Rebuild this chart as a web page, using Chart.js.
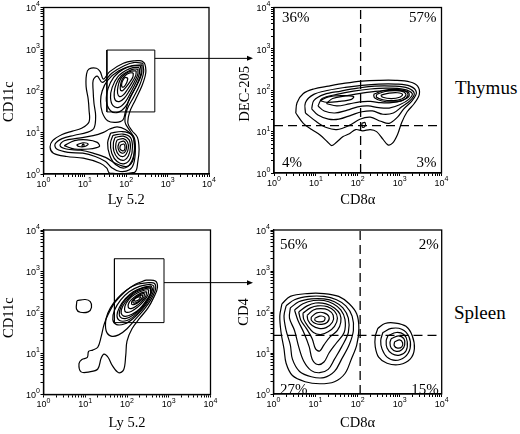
<!DOCTYPE html>
<html>
<head>
<meta charset="utf-8">
<script src="https://cdn.jsdelivr.net/npm/chart.js@4.4.1/dist/chart.umd.min.js"></script>
<style>
  html, body { margin: 0; padding: 0; background: #fff; }
  body { width: 520px; height: 434px; position: relative; overflow: hidden; }
  canvas { position: absolute; }
  .tissue { position: absolute; font: 19px "Liberation Serif", serif; line-height: 19px; color: #000; }
</style>
</head>
<body>
<canvas id="thymusGate" width="260" height="217" style="left:0;top:0"></canvas>
<canvas id="thymusSubsets" width="220" height="217" style="left:232px;top:0"></canvas>
<canvas id="spleenGate" width="260" height="217" style="left:0;top:217px"></canvas>
<canvas id="spleenSubsets" width="220" height="217" style="left:232px;top:217px"></canvas>
<div class="tissue" style="left:455px;top:78px">Thymus</div>
<div class="tissue" style="left:454px;top:303px">Spleen</div>
<script>
// decade ticks on every axis, labelled 10 with a raised exponent
const decadeValues = [1, 10, 100, 1000, 10000];
const decadeExponents = ['0', '1', '2', '3', '4'];

// contours, as [log10 x, log10 y] pairs

// thymus: CD11c vs Ly 5.2
const thymusGateContours = [
  [[2.37,2.72],[2.45,2.64],[2.47,2.42],[2.38,2.12],[2.22,1.78],[2.08,1.48],[2.04,1.22],[2.14,1.04],[2.27,0.88],[2.31,0.6],[2.28,0.3],[2.2,0.04],[1.6,0.02],[1.53,0.14],[1.37,0.26],[0.96,0.38],[0.56,0.42],[0.24,0.5],[0.16,0.64],[0.22,0.8],[0.45,0.95],[0.7,1.03],[0.92,1.1],[1.1,1.25],[1.1,1.55],[1.08,1.8],[1.03,2.1],[1.04,2.4],[1.1,2.52],[1.28,2.54],[1.37,2.46],[1.45,2.28],[1.6,2.46],[1.93,2.66],[2.2,2.72]],
  [[2.4,2.66],[2.42,2.45],[2.33,2.15],[2.18,1.85],[2.02,1.55],[1.97,1.25],[2.08,1.05],[2.2,0.85],[2.22,0.55],[2.18,0.25],[2.08,0.1],[1.85,0.06],[1.65,0.15],[1.5,0.3],[1.25,0.42],[0.95,0.5],[0.6,0.52],[0.32,0.6],[0.28,0.72],[0.45,0.85],[0.75,0.93],[1.05,1.0],[1.22,1.1],[1.26,1.4],[1.22,1.7],[1.2,2.0],[1.2,2.25],[1.3,2.35],[1.42,2.2],[1.65,2.42],[1.95,2.6],[2.2,2.68]],
  [[2.18,0.9],[2.2,0.6],[2.15,0.3],[2.0,0.18],[1.75,0.25],[1.5,0.4],[1.2,0.5],[0.9,0.57],[0.55,0.6],[0.4,0.68],[0.5,0.8],[0.85,0.86],[1.2,0.92],[1.45,1.0],[1.6,1.08],[1.78,1.13],[1.98,1.07]],
  [[2.38,2.62],[2.37,2.4],[2.25,2.12],[2.08,1.82],[1.98,1.5],[1.92,1.3],[1.75,1.24],[1.55,1.28],[1.42,1.48],[1.38,1.75],[1.42,2.0],[1.55,2.25],[1.82,2.48],[2.12,2.6]],
  [[2.34,2.6],[2.36,2.43],[2.27,2.18],[2.13,1.9],[1.98,1.62],[1.8,1.48],[1.62,1.52],[1.52,1.75],[1.56,2.05],[1.7,2.33],[1.93,2.52],[2.18,2.6]],
  [[2.31,2.56],[2.32,2.42],[2.23,2.19],[2.1,1.94],[1.97,1.72],[1.82,1.6],[1.68,1.64],[1.62,1.84],[1.66,2.08],[1.79,2.33],[2.0,2.49],[2.18,2.56]],
  [[2.28,2.52],[2.28,2.4],[2.19,2.2],[2.07,1.99],[1.95,1.82],[1.83,1.74],[1.73,1.78],[1.71,1.96],[1.76,2.17],[1.88,2.36],[2.05,2.47],[2.18,2.52]],
  [[2.24,2.48],[2.23,2.37],[2.14,2.2],[2.03,2.03],[1.93,1.9],[1.84,1.86],[1.79,1.94],[1.8,2.1],[1.86,2.28],[1.98,2.41],[2.12,2.47]],
  [[2.17,2.43],[2.16,2.33],[2.08,2.2],[1.99,2.08],[1.91,2.0],[1.86,2.02],[1.86,2.13],[1.9,2.27],[1.99,2.38],[2.09,2.43]],
  [[2.04,2.3],[2.01,2.19],[1.95,2.1],[1.9,2.09],[1.89,2.17],[1.93,2.27],[1.98,2.32]],
  [[1.62,0.98],[1.9,1.02],[2.12,0.95],[2.2,0.7],[2.15,0.35],[1.98,0.15],[1.75,0.22],[1.6,0.45],[1.55,0.75]],
  [[1.68,0.93],[1.92,0.96],[2.1,0.88],[2.15,0.65],[2.1,0.38],[1.96,0.25],[1.78,0.3],[1.65,0.5],[1.62,0.75]],
  [[1.73,0.88],[1.93,0.91],[2.07,0.82],[2.1,0.63],[2.05,0.43],[1.95,0.33],[1.8,0.38],[1.7,0.55],[1.69,0.75]],
  [[1.78,0.82],[1.93,0.85],[2.03,0.77],[2.05,0.62],[2.0,0.48],[1.93,0.42],[1.82,0.46],[1.75,0.6],[1.75,0.73]],
  [[1.83,0.76],[1.94,0.79],[2.0,0.7],[2.0,0.6],[1.96,0.52],[1.9,0.5],[1.83,0.55],[1.8,0.65]],
  [[1.87,0.7],[1.94,0.72],[1.97,0.65],[1.95,0.57],[1.9,0.56],[1.85,0.6],[1.85,0.66]],
  [[0.5,0.68],[0.75,0.8],[1.05,0.82],[1.3,0.76],[1.35,0.66],[1.1,0.6],[0.75,0.6]],
  [[0.8,0.7],[0.95,0.75],[1.08,0.72],[1.0,0.66],[0.85,0.66]],
  [[0.93,0.7],[0.97,0.72],[0.98,0.68],[0.94,0.67]]
];
const thymusGateX = [34, 490];
const thymusGateY = [31, 950];
const thymusArrowY = 600;

// thymus gated cells: DEC-205 vs CD8α
const thymusSubsetContours = [
  [[0.52,1.45],[0.55,1.7],[0.7,1.92],[0.95,2.03],[1.3,2.1],[1.7,2.17],[2.1,2.22],[2.5,2.24],[2.9,2.24],[3.25,2.2],[3.43,2.1],[3.47,1.9],[3.35,1.68],[3.18,1.48],[3.05,1.22],[2.95,0.93],[2.83,0.72],[2.72,0.68],[2.6,0.82],[2.45,1.0],[2.3,1.05],[2.12,1.02],[1.95,1.05],[1.8,0.95],[1.65,0.88],[1.5,0.75],[1.38,0.66],[1.28,0.75],[1.1,0.92],[0.9,1.05],[0.7,1.2]],
  [[0.75,1.45],[0.75,1.7],[0.95,1.9],[1.3,2.0],[1.7,2.07],[2.1,2.12],[2.5,2.15],[2.9,2.15],[3.25,2.1],[3.4,1.95],[3.3,1.75],[3.1,1.55],[2.95,1.35],[2.75,1.2],[2.55,1.25],[2.3,1.35],[2.05,1.3],[1.8,1.15],[1.5,1.05],[1.25,1.1],[1.0,1.25]],
  [[0.9,1.55],[0.95,1.75],[1.2,1.9],[1.6,1.98],[2.0,2.05],[2.4,2.1],[2.85,2.1],[3.2,2.05],[3.35,1.92],[3.25,1.75],[3.05,1.6],[2.85,1.45],[2.6,1.42],[2.35,1.5],[2.1,1.48],[1.85,1.4],[1.55,1.3],[1.3,1.3],[1.05,1.4]],
  [[1.05,1.62],[1.15,1.8],[1.5,1.9],[1.9,1.98],[2.3,2.03],[2.7,2.05],[3.1,2.02],[3.3,1.92],[3.22,1.78],[3.0,1.65],[2.75,1.57],[2.5,1.58],[2.25,1.62],[2.0,1.6],[1.75,1.52],[1.45,1.45],[1.2,1.5]],
  [[1.25,1.68],[1.4,1.8],[1.75,1.87],[2.1,1.93],[2.5,1.98],[2.9,2.0],[3.2,1.96],[3.22,1.85],[3.05,1.75],[2.8,1.7],[2.55,1.7],[2.3,1.73],[2.05,1.72],[1.8,1.67],[1.5,1.62]],
  [[2.38,1.9],[2.6,1.99],[2.9,2.02],[3.14,1.98],[3.2,1.88],[3.08,1.76],[2.85,1.72],[2.58,1.74],[2.4,1.82]],
  [[2.45,1.9],[2.65,1.97],[2.9,1.99],[3.1,1.96],[3.15,1.88],[3.05,1.79],[2.85,1.75],[2.6,1.77],[2.45,1.83]],
  [[2.55,1.88],[2.75,1.93],[2.95,1.94],[3.07,1.9],[3.0,1.83],[2.8,1.8],[2.6,1.83]],
  [[1.1,1.75],[1.3,1.84],[1.6,1.87],[1.9,1.85],[1.85,1.78],[1.55,1.73],[1.25,1.71]],
  [[2.1,1.2],[2.17,1.22],[2.18,1.14],[2.12,1.1],[2.1,1.15]]
];
const thymusCD8Cut = 117;
const thymusDECCut = 14;
const thymusQuadrants = ['36%', '57%', '4%', '3%'];

// spleen: CD11c vs Ly 5.2
const spleenGateContours = [
  [[2.45,2.78],[2.68,2.76],[2.73,2.6],[2.65,2.38],[2.5,2.1],[2.3,1.85],[2.12,1.6],[2.0,1.3],[1.97,0.95],[1.92,0.6],[1.8,0.53],[1.65,0.7],[1.55,0.9],[1.45,0.98],[1.38,0.88],[1.3,0.62],[1.1,0.55],[0.9,0.55],[0.85,0.75],[0.92,0.85],[1.05,0.9],[1.08,1.05],[1.18,1.08],[1.3,1.15],[1.38,1.4],[1.45,1.7],[1.55,1.95],[1.72,2.25],[1.95,2.5],[2.2,2.68]],
  [[2.5,2.72],[2.66,2.7],[2.68,2.55],[2.58,2.32],[2.42,2.08],[2.22,1.85],[2.0,1.6],[1.8,1.45],[1.62,1.42],[1.5,1.55],[1.5,1.85],[1.6,2.1],[1.78,2.35],[2.0,2.55],[2.25,2.68]],
  [[2.55,2.68],[2.64,2.64],[2.63,2.5],[2.52,2.28],[2.35,2.05],[2.15,1.85],[1.95,1.72],[1.75,1.7],[1.66,1.82],[1.7,2.05],[1.85,2.3],[2.05,2.5],[2.3,2.63]],
  [[2.58,2.64],[2.61,2.55],[2.53,2.35],[2.38,2.12],[2.2,1.93],[2.0,1.8],[1.82,1.8],[1.76,1.92],[1.82,2.12],[1.96,2.33],[2.15,2.5],[2.38,2.6]],
  [[2.57,2.61],[2.58,2.5],[2.49,2.31],[2.34,2.1],[2.16,1.94],[1.98,1.85],[1.84,1.88],[1.82,2.02],[1.9,2.22],[2.06,2.4],[2.26,2.54],[2.42,2.6]],
  [[2.56,2.59],[2.56,2.45],[2.45,2.27],[2.3,2.08],[2.12,1.95],[1.95,1.9],[1.86,1.98],[1.9,2.15],[2.03,2.33],[2.2,2.48],[2.42,2.57]],
  [[2.52,2.55],[2.5,2.42],[2.4,2.27],[2.25,2.12],[2.1,2.02],[1.98,2.0],[1.94,2.08],[1.98,2.22],[2.1,2.37],[2.27,2.48],[2.43,2.54]],
  [[2.47,2.5],[2.45,2.39],[2.35,2.26],[2.22,2.15],[2.1,2.09],[2.03,2.12],[2.05,2.24],[2.15,2.35],[2.32,2.46]],
  [[2.42,2.46],[2.4,2.36],[2.3,2.26],[2.18,2.19],[2.11,2.2],[2.13,2.29],[2.23,2.38],[2.34,2.44]],
  [[2.38,2.42],[2.35,2.33],[2.26,2.25],[2.17,2.22],[2.14,2.26],[2.2,2.34],[2.3,2.4]],
  [[2.33,2.38],[2.29,2.31],[2.21,2.27],[2.17,2.29],[2.2,2.34],[2.27,2.37]],
  [[0.8,2.28],[1.0,2.31],[1.12,2.26],[1.15,2.12],[1.07,2.01],[0.88,2.0],[0.79,2.08]]
];
const spleenGateX = [50, 770];
const spleenGateY = [56, 2000];
const spleenArrowY = 525;

// spleen gated cells: CD4 vs CD8α
const spleenSubsetContours = [
  [[0.2,2.2],[0.4,2.38],[0.8,2.45],[1.2,2.45],[1.55,2.38],[1.8,2.2],[1.98,1.95],[2.03,1.6],[1.98,1.2],[1.85,0.85],[1.7,0.5],[1.45,0.3],[1.1,0.25],[0.75,0.3],[0.45,0.45],[0.3,0.75],[0.25,1.1],[0.18,1.5],[0.15,1.9]],
  [[0.3,2.15],[0.5,2.3],[0.85,2.38],[1.2,2.38],[1.5,2.3],[1.72,2.15],[1.87,1.9],[1.9,1.55],[1.8,1.2],[1.62,0.85],[1.45,0.55],[1.2,0.4],[0.9,0.42],[0.62,0.55],[0.45,0.85],[0.4,1.2],[0.3,1.55],[0.25,1.9]],
  [[0.4,2.1],[0.6,2.25],[0.9,2.32],[1.2,2.32],[1.45,2.25],[1.65,2.1],[1.78,1.85],[1.78,1.5],[1.62,1.15],[1.45,0.85],[1.3,0.6],[1.1,0.52],[0.9,0.57],[0.72,0.8],[0.6,1.15],[0.5,1.55],[0.38,1.85]],
  [[0.5,2.05],[0.7,2.2],[0.95,2.28],[1.2,2.28],[1.42,2.2],[1.6,2.05],[1.7,1.82],[1.68,1.5],[1.5,1.25],[1.32,1.0],[1.2,0.78],[1.05,0.72],[0.92,0.85],[0.85,1.15],[0.72,1.5],[0.58,1.8]],
  [[0.6,2.0],[0.8,2.15],[1.0,2.22],[1.25,2.2],[1.45,2.1],[1.58,1.95],[1.6,1.75],[1.52,1.55],[1.35,1.4],[1.2,1.2],[1.1,1.05],[1.0,1.1],[0.92,1.35],[0.78,1.6],[0.65,1.8]],
  [[0.7,1.97],[0.88,2.1],[1.05,2.15],[1.28,2.13],[1.45,2.02],[1.52,1.85],[1.45,1.65],[1.3,1.52],[1.12,1.45],[0.95,1.5],[0.82,1.65],[0.72,1.82]],
  [[0.8,1.92],[0.95,2.05],[1.12,2.08],[1.3,2.05],[1.42,1.92],[1.4,1.75],[1.25,1.62],[1.08,1.6],[0.92,1.67],[0.82,1.8]],
  [[0.9,1.88],[1.03,1.98],[1.2,1.98],[1.32,1.88],[1.28,1.75],[1.15,1.7],[1.0,1.72],[0.9,1.8]],
  [[0.98,1.84],[1.1,1.9],[1.22,1.87],[1.2,1.78],[1.08,1.76],[0.99,1.79]],
  [[2.48,1.6],[2.65,1.72],[2.9,1.73],[3.15,1.65],[3.3,1.42],[3.35,1.1],[3.25,0.85],[3.0,0.72],[2.7,0.75],[2.5,0.9],[2.42,1.15],[2.42,1.4]],
  [[2.6,1.5],[2.8,1.6],[3.05,1.58],[3.22,1.4],[3.25,1.12],[3.12,0.9],[2.9,0.82],[2.7,0.9],[2.58,1.1],[2.55,1.3]],
  [[2.72,1.42],[2.92,1.5],[3.1,1.45],[3.18,1.28],[3.15,1.05],[3.0,0.95],[2.82,0.98],[2.7,1.12],[2.68,1.3]],
  [[2.8,1.35],[2.97,1.42],[3.1,1.35],[3.12,1.2],[3.05,1.08],[2.92,1.04],[2.8,1.12],[2.77,1.25]],
  [[2.88,1.27],[3.0,1.32],[3.07,1.25],[3.05,1.15],[2.95,1.12],[2.87,1.18]]
];
const spleenCD8Cut = 115;
const spleenCD4Cut = 27;
const spleenQuadrants = ['56%', '2%', '27%', '15%'];

// 1..9 x each decade for the tick marks
const logTicks = [];
decadeValues.slice(0, 4).forEach(d => { for (let m = 1; m < 10; m++) logTicks.push(m * d); });
logTicks.push(10000);

const black = '#000';
const serif = 'Liberation Serif';
const sans = 'Liberation Sans';

function logAxis(title, size, titlePad) {
  return {
    type: 'logarithmic',
    min: 1,
    max: 10000,
    afterBuildTicks: s => { s.ticks = logTicks.map(v => ({ value: v })); },
    afterFit: s => { if (s.isHorizontal()) s.height = size; else s.width = size; },
    ticks: { display: false, autoSkip: false },
    grid: { drawOnChartArea: false, drawTicks: true, tickLength: 3, tickColor: black, tickWidth: 1 },
    border: { display: true, color: black, width: 1.3 },
    title: { display: true, text: title, color: black, font: { family: serif, size: 14.5 }, padding: titlePad }
  };
}

function contourSets(lines) {
  return lines.map(pts => ({
    data: pts.concat([pts[0]]).map(([a, b]) => ({ x: 10 ** a, y: 10 ** b })),
    showLine: true, borderColor: black, borderWidth: 1.2, pointRadius: 0, tension: 0.35
  }));
}

function gateSet(gx, gy) {
  return {
    data: [{ x: gx[0], y: gy[0] }, { x: gx[1], y: gy[0] }, { x: gx[1], y: gy[1] }, { x: gx[0], y: gy[1] }, { x: gx[0], y: gy[0] }],
    showLine: true, borderColor: black, borderWidth: 1, pointRadius: 0, tension: 0
  };
}

function cutSets(xCut, yCut) {
  const dash = { showLine: true, borderColor: black, borderWidth: 1.3, borderDash: [9, 5], pointRadius: 0, tension: 0 };
  return [
    { ...dash, data: [{ x: xCut, y: 1 }, { x: xCut, y: 10000 }] },
    { ...dash, data: [{ x: 1, y: yCut }, { x: 10000, y: yCut }] }
  ];
}

// decade labels "10" + superscript exponent, placed through the scales
function drawDecadeLabels(ctx, x, y) {
  const base = '9px "' + sans + '"', sup = '7px "' + sans + '"';
  ctx.textBaseline = 'middle';
  decadeValues.forEach((v, i) => {
    const e = decadeExponents[i];
    ctx.font = sup;
    const ew = ctx.measureText(e).width;
    ctx.font = base;
    const bw = ctx.measureText('10').width;
    // x axis: centred under the tick
    const px = x.getPixelForValue(v), by = x.top + 10.5;
    const left = px - (bw + ew) / 2;
    ctx.textAlign = 'left';
    ctx.fillText('10', left, by);
    ctx.font = sup;
    ctx.fillText(e, left + bw, by - 4);
    // y axis: right of the label next to the ticks
    const py = y.getPixelForValue(v), right = y.right - 3.5;
    ctx.textAlign = 'right';
    ctx.fillText(e, right, py - 3);
    ctx.font = base;
    ctx.fillText('10', right - ew, py + 1.2);
  });
}

// frame box, gate arrow, quadrant percentages and decade labels
const panelDecor = {
  id: 'panelDecor',
  afterDraw(chart, args, opts) {
    const { ctx, chartArea: a, scales: { x, y } } = chart;
    ctx.save();
    ctx.strokeStyle = black;
    ctx.fillStyle = black;
    ctx.lineWidth = 1.3;
    ctx.strokeRect(a.left, a.top, a.right - a.left, a.bottom - a.top);
    drawDecadeLabels(ctx, x, y);
    if (opts.arrow) {
      const x0 = x.getPixelForValue(opts.arrow.from);
      const y0 = y.getPixelForValue(opts.arrow.at);
      const tip = opts.arrow.tip;
      ctx.lineWidth = 1;
      ctx.beginPath();
      ctx.moveTo(x0, y0);
      ctx.lineTo(tip - 5, y0);
      ctx.stroke();
      ctx.beginPath();
      ctx.moveTo(tip, y0);
      ctx.lineTo(tip - 6, y0 - 2.5);
      ctx.lineTo(tip - 6, y0 + 2.5);
      ctx.closePath();
      ctx.fill();
    }
    if (opts.quadrants) {
      const q = opts.quadrants, p = opts.inset;
      ctx.font = '15px "' + serif + '"';
      ctx.textBaseline = 'alphabetic';
      ctx.textAlign = 'left';
      ctx.fillText(q[0], a.left + p.left, a.top + p.top);
      ctx.fillText(q[2], a.left + p.left, a.bottom - p.bottom);
      ctx.textAlign = 'right';
      ctx.fillText(q[1], a.right - p.right, a.top + p.top);
      ctx.fillText(q[3], a.right - p.right, a.bottom - p.bottom);
    }
    ctx.restore();
  }
};

function panel(id, datasets, cfg) {
  return new Chart(document.getElementById(id), {
    type: 'scatter',
    data: { datasets: datasets },
    options: {
      responsive: false,
      animation: false,
      events: [],
      layout: { padding: cfg.padding },
      scales: {
        x: logAxis(cfg.xTitle, cfg.xSize, { top: 0, bottom: cfg.xTitlePad }),
        y: logAxis(cfg.yTitle, cfg.ySize, { top: cfg.yTitlePad, bottom: 0 })
      },
      plugins: {
        legend: { display: false },
        tooltip: { enabled: false },
        panelDecor: cfg.decor
      }
    },
    plugins: [panelDecor]
  });
}

panel('thymusGate', contourSets(thymusGateContours).concat([gateSet(thymusGateX, thymusGateY)]), {
  padding: { top: 7.5, right: 51, bottom: 0, left: 0 },
  xTitle: 'Ly 5.2', xSize: 43, xTitlePad: 8,
  yTitle: 'CD11c      ', ySize: 43.5, yTitlePad: 0,
  decor: { arrow: { from: thymusGateX[1], at: thymusArrowY, tip: 253 } }
});

panel('thymusSubsets', contourSets(thymusSubsetContours).concat(cutSets(thymusCD8Cut, thymusDECCut)), {
  padding: { top: 7.5, right: 10.5, bottom: 0, left: 0 },
  xTitle: 'CD8α', xSize: 44, xTitlePad: 8,
  yTitle: 'DEC-205  ', ySize: 42, yTitlePad: 4,
  decor: { quadrants: thymusQuadrants, inset: { left: 8, right: 5, top: 14.5, bottom: 6 } }
});

panel('spleenGate', contourSets(spleenGateContours).concat([gateSet(spleenGateX, spleenGateY)]), {
  padding: { top: 13, right: 49.5, bottom: 0, left: 0 },
  xTitle: 'Ly 5.2', xSize: 39.5, xTitlePad: 2.5,
  yTitle: 'CD11c   ', ySize: 43.5, yTitlePad: 0,
  decor: { arrow: { from: spleenGateX[1], at: spleenArrowY, tip: 253 } }
});

panel('spleenSubsets', contourSets(spleenSubsetContours).concat(cutSets(spleenCD8Cut, spleenCD4Cut)), {
  padding: { top: 13, right: 10.3, bottom: 0, left: 0 },
  xTitle: 'CD8α', xSize: 40, xTitlePad: 2.5,
  yTitle: 'CD4', ySize: 41.5, yTitlePad: 3,
  decor: { quadrants: spleenQuadrants, inset: { left: 6.5, right: 3, top: 18.5, bottom: 0.5 } }
});
</script>
</body>
</html>
